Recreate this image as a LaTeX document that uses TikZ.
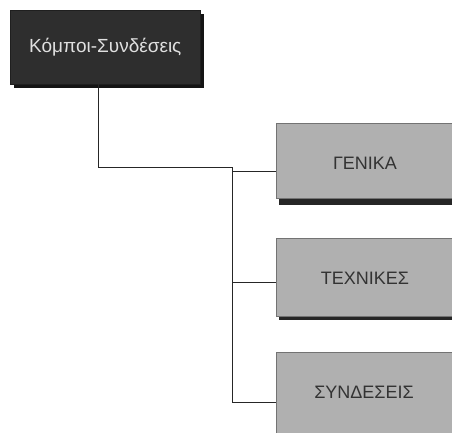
\documentclass[tikz,border=0pt]{standalone}
\usepackage{fontspec}
\setmainfont{Liberation Sans}
\begin{document}
\begin{tikzpicture}[x=1pt,y=-1pt,
  rootbox/.style={fill=black!82, draw=black!88, line width=0.6pt, anchor=north west, inner sep=0pt,
    text=black!12, font=\fontsize{19}{21}\selectfont},
  leafbox/.style={fill=black!31, draw=black!55, line width=0.6pt, anchor=north west, inner sep=0pt},
  leaflabel/.style={text=black!80, font=\fontsize{18}{20}\selectfont},
  link/.style={draw=black!85, line width=0.9pt}
]
\useasboundingbox (0,0) rectangle (452,432);
\clip (0,0) rectangle (452,432);

% drop shadows
\fill[black!92] (14,14) rectangle (204,88);
\fill[black!85] (279,195) rectangle (460,205);
\fill[black!85] (279,310) rectangle (460,320);

% boxes
\node[rootbox, minimum width=190pt, minimum height=74pt] (root) at (10,10) {Κόμποι-Συνδέσεις};
\node[leafbox, minimum width=180pt, minimum height=75pt] (gen) at (276,123) {};
\node[leafbox, minimum width=180pt, minimum height=78pt] (tech) at (276,238) {};
\node[leafbox, minimum width=180pt, minimum height=84pt] (syn) at (276,352) {};
\node[leaflabel] (genl) at (365,163) {ΓΕΝΙΚΑ};
\node[leaflabel] (techl) at (365,278) {ΤΕΧΝΙΚΕΣ};
\node[leaflabel] (synl) at (364,392) {ΣΥΝΔΕΣΕΙΣ};

% connector junctions
\coordinate (r0) at (98,84);
\coordinate (r1) at (98,167);
\coordinate (t0) at (232,167);
\coordinate (b1) at (232,171);
\coordinate (b2) at (232,282);
\coordinate (b3) at (232,402);

\draw[link] (r0) -- (r1) -- (t0) -- (b3);
\draw[link] (b1) -- (b1 -| gen.west);
\draw[link] (b2) -- (b2 -| tech.west);
\draw[link] (b3) -- (b3 -| syn.west);
\end{tikzpicture}
\end{document}
